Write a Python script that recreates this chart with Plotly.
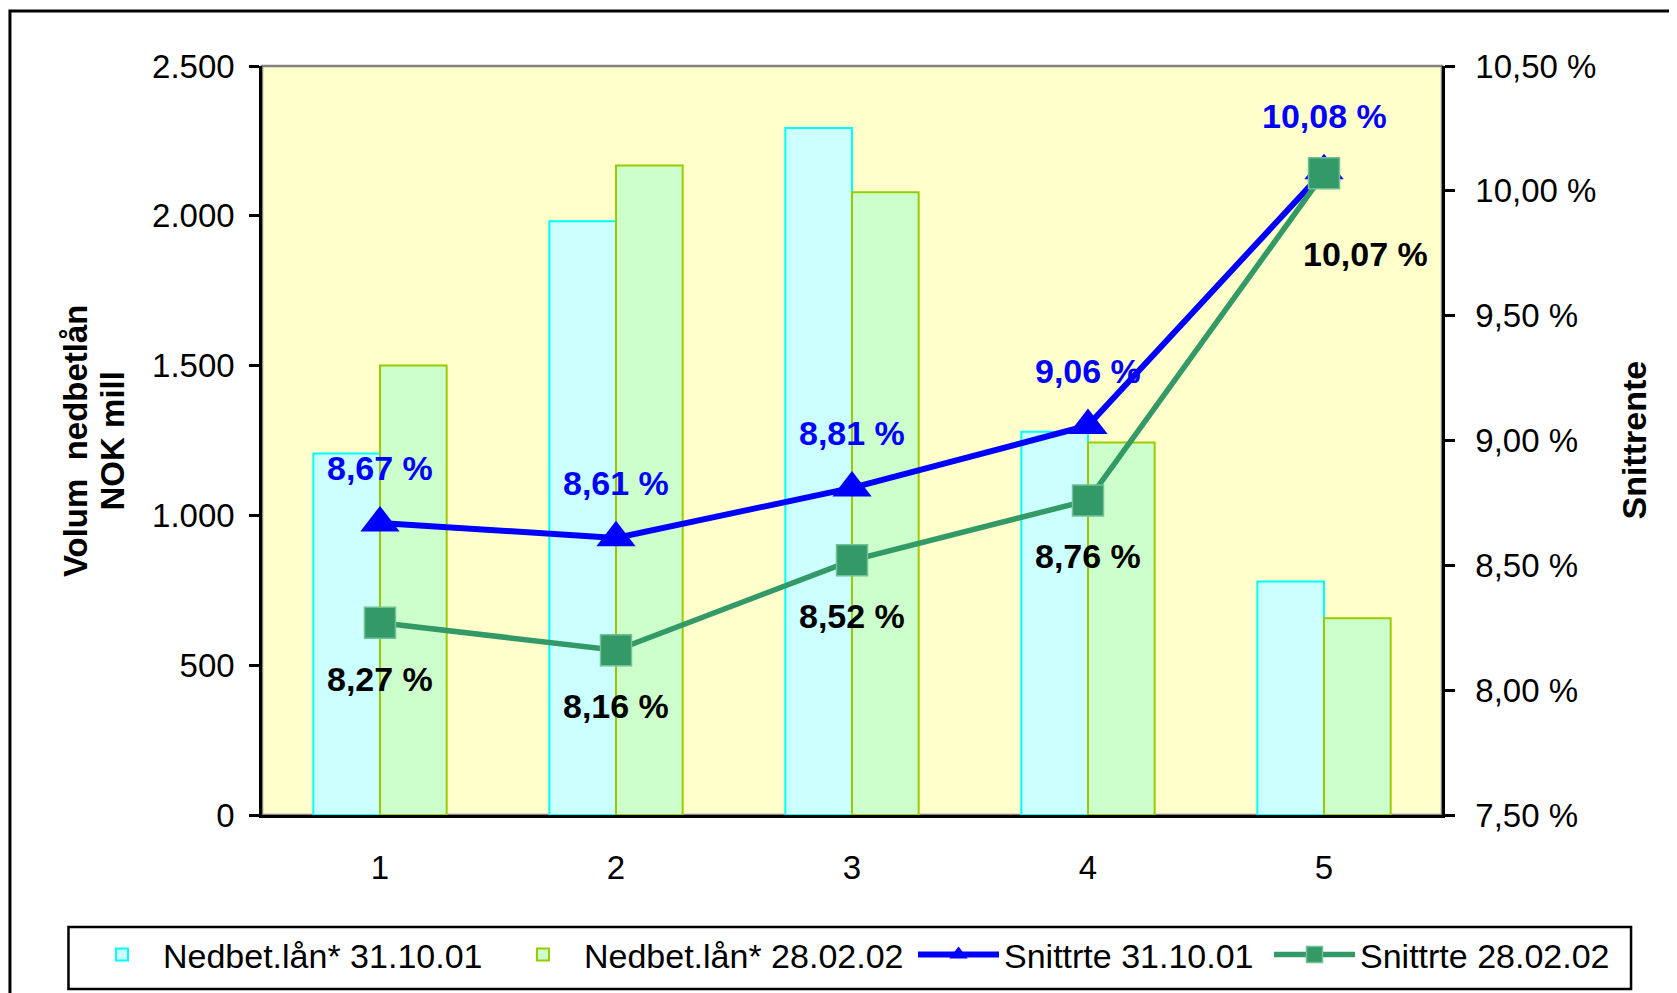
import plotly.graph_objects as go

categories = [1, 2, 3, 4, 5]
nedbet_311001 = [1207, 1982, 2293, 1279, 779]
nedbet_280202 = [1500, 2168, 2079, 1243, 657]
snitt_311001 = [8.67, 8.61, 8.81, 9.06, 10.08]
snitt_280202 = [8.27, 8.16, 8.52, 8.76, 10.07]
left_ticks = [0, 500, 1000, 1500, 2000, 2500]
right_ticks = [7.5, 8.0, 8.5, 9.0, 9.5, 10.0, 10.5]
boundaries = [0.5, 1.5, 2.5, 3.5, 4.5, 5.5]

FONT = "Liberation Sans, Arial, sans-serif"
BLUE = "#0000FF"
GREEN = "#339966"


def pct(v):
    return f"{v:.2f}".replace(".", ",") + " %"


fig = go.Figure()
fig.add_trace(go.Bar(
    x=categories, y=nedbet_311001, name="Nedbet.lån* 31.10.01",
    marker=dict(color="#CCFFFF", line=dict(color="#00FFFF", width=2)),
    legend="legend",
))
fig.add_trace(go.Bar(
    x=categories, y=nedbet_280202, name="Nedbet.lån* 28.02.02",
    marker=dict(color="#CCFFCC", line=dict(color="#99CC00", width=2)),
    legend="legend",
))
fig.add_trace(go.Scatter(
    x=categories, y=snitt_311001, name="Snittrte 31.10.01", yaxis="y2",
    mode="lines+markers",
    line=dict(color=BLUE, width=6),
    marker=dict(symbol="triangle-up", size=34, color=BLUE, line=dict(width=0)),
    legend="legend2",
))
fig.add_trace(go.Scatter(
    x=categories, y=snitt_280202, name="Snittrte 28.02.02", yaxis="y2",
    mode="lines+markers",
    line=dict(color=GREEN, width=5.5),
    marker=dict(symbol="square", size=31, color=GREEN,
                line=dict(color="#6fc096", width=1.5)),
    legend="legend2",
))

annotations = []
for c, v in zip(categories, snitt_311001):
    annotations.append(dict(
        x=c, y=v, xref="x", yref="y2", text=pct(v), showarrow=False,
        yshift=55, font=dict(family=FONT, size=34, color=BLUE, weight="bold"),
    ))
for i, (c, v) in enumerate(zip(categories, snitt_280202)):
    last = i == len(categories) - 1
    annotations.append(dict(
        x=c, y=v, xref="x", yref="y2", text=pct(v), showarrow=False,
        yshift=-81 if last else -56, xshift=41 if last else 0,
        font=dict(family=FONT, size=34, color="black", weight="bold"),
    ))

title_font = dict(family=FONT, size=33, color="black", weight="bold")
annotations += [
    dict(x=-0.158, y=0.5, xref="paper", yref="paper", text="Volum  nedbetlån",
         textangle=-90, showarrow=False, font=title_font,
         xanchor="center", yanchor="middle"),
    dict(x=-0.1263, y=0.5, xref="paper", yref="paper", text="NOK mill",
         textangle=-90, showarrow=False, font=title_font,
         xanchor="center", yanchor="middle"),
    dict(x=1.1619, y=0.5, xref="paper", yref="paper", text="Snittrente",
         textangle=-90, showarrow=False,
         font=dict(family=FONT, size=34, color="black", weight="bold"),
         xanchor="center", yanchor="middle"),
]

tick_font = dict(family=FONT, size=33, color="black")
legend_font = dict(family=FONT, size=34, color="black")

fig.update_layout(
    width=1677, height=993,
    margin=dict(l=254, r=243, t=58, b=186, autoexpand=False),
    paper_bgcolor="white", plot_bgcolor="#FFFFCC",
    separators=",.",
    barmode="group", bargap=0.435, bargroupgap=0,
    font=dict(family=FONT, size=33, color="black"),
    xaxis=dict(
        range=[0.5, 5.5], tickvals=categories, ticktext=[str(c) for c in categories],
        ticks="", showgrid=False, zeroline=False, showline=True,
        linecolor="black", linewidth=2.5, tickfont=tick_font,
        ticklabelstandoff=22,
    ),
    xaxis2=dict(
        overlaying="x", anchor="y", side="bottom", range=[0.5, 5.5],
        tickvals=boundaries, ticks="outside", ticklen=12, tickwidth=2.5,
        tickcolor="black", showticklabels=False, showgrid=False,
        zeroline=False, showline=False,
    ),
    xaxis3=dict(
        overlaying="x", anchor="y", side="bottom", range=[0.5, 5.5],
        tickvals=boundaries, ticks="inside", ticklen=12, tickwidth=2.5,
        tickcolor="black", showticklabels=False, showgrid=False,
        zeroline=False, showline=False,
    ),
    yaxis=dict(
        range=[0, 2500], tickvals=left_ticks, tickformat=",d",
        ticks="outside", ticklen=10, tickwidth=2.5, tickcolor="black",
        showgrid=False, zeroline=False, showline=True, linecolor="black",
        linewidth=2.5, tickfont=tick_font, ticklabelstandoff=8,
    ),
    yaxis2=dict(
        range=[7.5, 10.5], tickvals=right_ticks,
        ticktext=[pct(t) for t in right_ticks],
        overlaying="y", side="right", anchor="x",
        ticks="outside", ticklen=10, tickwidth=2.5, tickcolor="black",
        showgrid=False, zeroline=False, showline=True, linecolor="black",
        linewidth=2.5, tickfont=tick_font, ticklabelstandoff=14,
    ),
    yaxis3=dict(
        range=[0, 2500], tickvals=left_ticks, overlaying="y", side="left",
        anchor="x", ticks="inside", ticklen=10, tickwidth=2.5,
        tickcolor="black", showticklabels=False, showgrid=False,
        zeroline=False, showline=False,
    ),
    yaxis4=dict(
        range=[7.5, 10.5], tickvals=right_ticks, overlaying="y", side="right",
        anchor="x", ticks="inside", ticklen=10, tickwidth=2.5,
        tickcolor="black", showticklabels=False, showgrid=False,
        zeroline=False, showline=False,
    ),
    legend=dict(
        orientation="h", x=-0.1534, y=-0.148, xanchor="left", yanchor="top",
        bgcolor="rgba(0,0,0,0)", borderwidth=0,
        font=legend_font, itemwidth=72, traceorder="normal",
        entrywidth=334, entrywidthmode="pixels",
    ),
    legend2=dict(
        orientation="h", x=0.5517, y=-0.148, xanchor="left", yanchor="top",
        bgcolor="rgba(0,0,0,0)", borderwidth=0,
        font=legend_font, itemwidth=81, traceorder="normal",
        entrywidth=260, entrywidthmode="pixels",
    ),
    annotations=annotations,
    shapes=[
        dict(type="rect", xref="paper", yref="paper", x0=0, x1=1, y0=0, y1=1,
             line=dict(color="#808080", width=2.5), layer="below"),
        dict(type="rect", xref="paper", yref="paper", x0=-0.2136, x1=1.22,
             y0=-0.26, y1=1.0734, line=dict(color="black", width=3)),
        dict(type="rect", xref="paper", yref="paper", x0=-0.164, x1=1.1602,
             y0=-0.2323, y1=-0.1495, line=dict(color="black", width=2.5)),
    ],
    showlegend=True,
)

fig.write_html("out.html")
